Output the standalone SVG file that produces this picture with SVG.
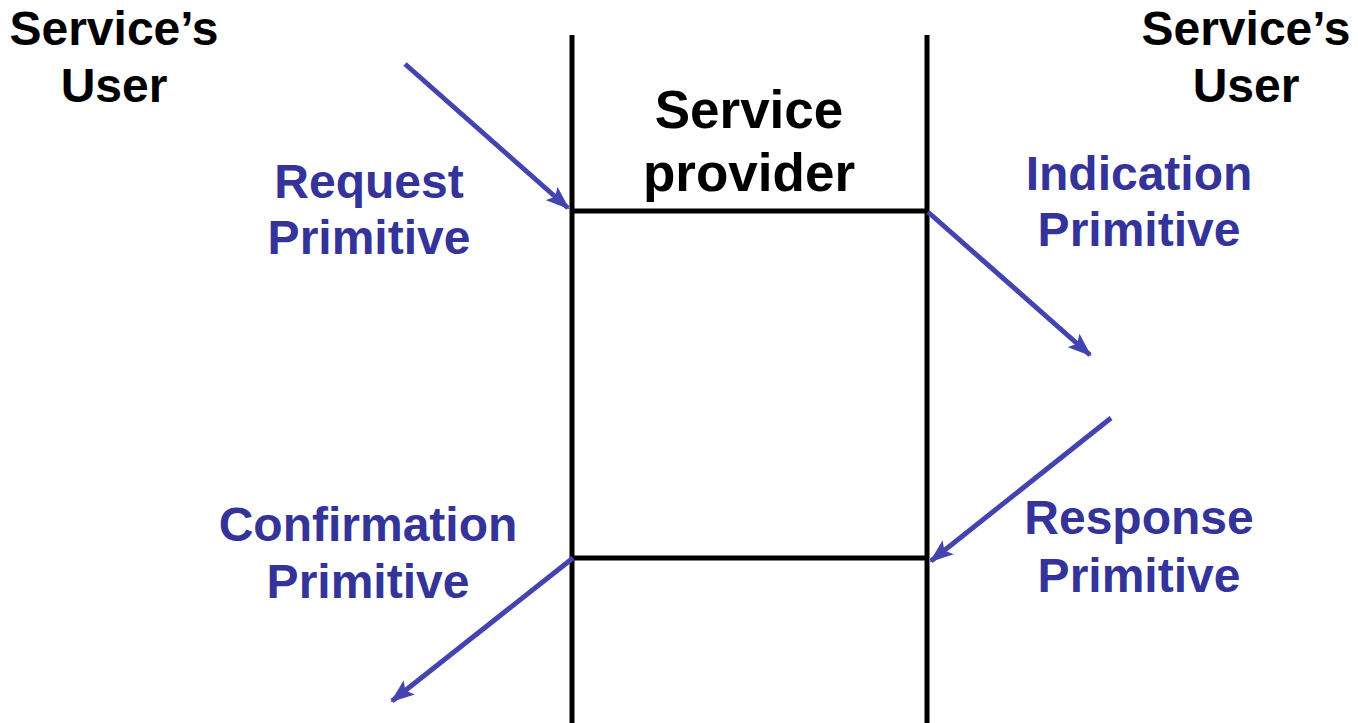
<svg xmlns="http://www.w3.org/2000/svg" width="1358" height="723" viewBox="0 0 1358 723">
<style>
.t{font-family:"Liberation Sans",Arial,sans-serif;font-weight:bold;font-size:48px;text-anchor:middle}
.sp{font-size:53px}
.k{fill:#000}
.b{fill:#333399}
.ln{stroke:#000;stroke-width:5;fill:none}
.ar{stroke:#4444b0;stroke-width:5;fill:none;marker-end:url(#ah)}
</style>
<defs>
<marker id="ah" viewBox="0 0 24 18" refX="22" refY="9" markerWidth="24" markerHeight="18" markerUnits="userSpaceOnUse" orient="auto">
<path d="M0,0 L24,9 L0,18 L5,9 Z" fill="#4444b0"/>
</marker>
</defs>
<g id="provider">
<line class="ln" x1="572" y1="35" x2="572" y2="723"/>
<line class="ln" x1="927" y1="35" x2="927" y2="723"/>
<line class="ln" x1="572" y1="211" x2="927" y2="211"/>
<line class="ln" x1="572" y1="558" x2="927" y2="558"/>
<text class="t sp k" x="749" y="128">Service</text>
<text class="t sp k" x="749" y="191">provider</text>
</g>
<g id="user-left"><text class="t k" x="114" y="45">Service’s</text><text class="t k" x="114" y="102">User</text></g>
<g id="user-right"><text class="t k" x="1246" y="45">Service’s</text><text class="t k" x="1246" y="102">User</text></g>
<g id="request"><text class="t b" x="369" y="198">Request</text><text class="t b" x="369" y="254">Primitive</text></g>
<g id="indication"><text class="t b" x="1139" y="190">Indication</text><text class="t b" x="1139" y="246">Primitive</text></g>
<g id="confirmation"><text class="t b" x="368" y="541">Confirmation</text><text class="t b" x="368" y="598">Primitive</text></g>
<g id="response"><text class="t b" x="1139" y="534">Response</text><text class="t b" x="1139" y="592">Primitive</text></g>
<g id="connectors">
<line class="ar" x1="405" y1="64" x2="568" y2="208"/>
<line class="ar" x1="928" y1="212" x2="1090" y2="355"/>
<line class="ar" x1="1111" y1="418" x2="931" y2="561"/>
<line class="ar" x1="573" y1="558" x2="392" y2="701"/>
</g>
</svg>
